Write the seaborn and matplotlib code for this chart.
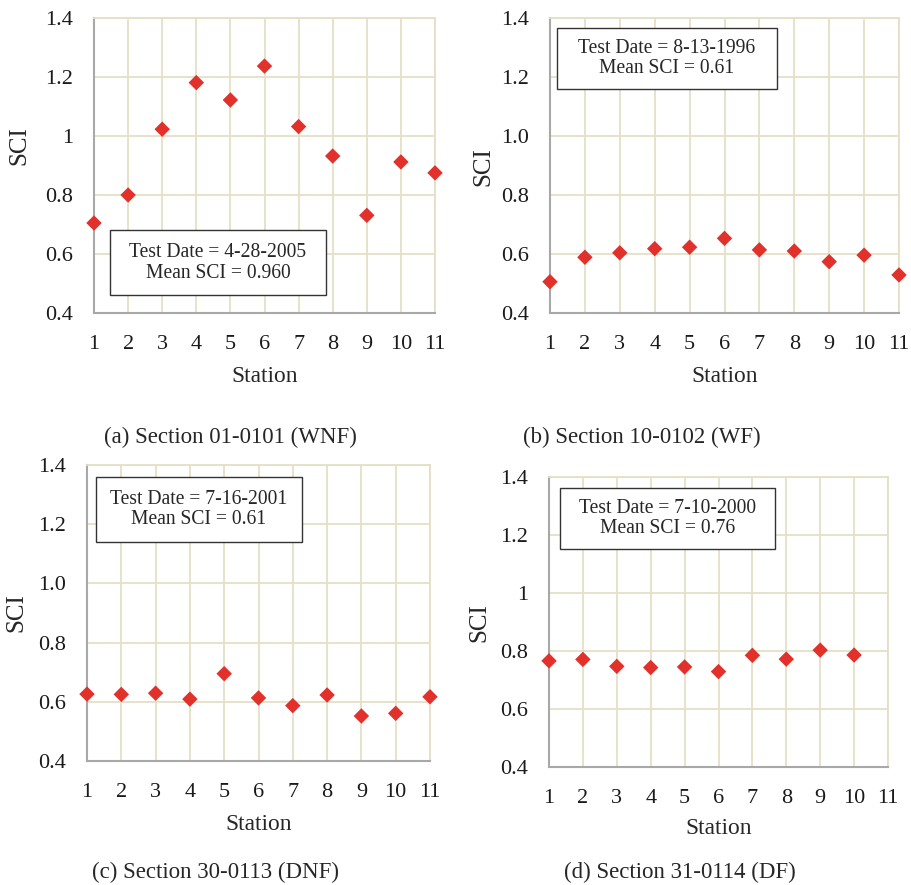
import pandas as pd
import matplotlib
matplotlib.use("Agg")
import matplotlib.pyplot as plt
import seaborn as sns

# station numbers and SCI readings per section
stations = list(range(1, 12))
sci_a = [0.705, 0.800, 1.023, 1.181, 1.122, 1.237, 1.032, 0.932, 0.731, 0.912, 0.875]
sci_b = [0.506, 0.589, 0.604, 0.618, 0.623, 0.653, 0.614, 0.610, 0.574, 0.596, 0.529]
sci_c = [0.626, 0.625, 0.629, 0.609, 0.695, 0.613, 0.587, 0.623, 0.552, 0.561, 0.617]
sci_d = [0.766, 0.771, 0.747, 0.743, 0.745, 0.729, 0.785, 0.772, 0.803, 0.786]

captions = ["(a) Section 01-0101 (WNF)", "(b) Section 10-0102 (WF)",
            "(c) Section 30-0113 (DNF)", "(d) Section 31-0114 (DF)"]
box_texts = ["Test Date = 4-28-2005\nMean SCI = 0.960",
             "Test Date = 8-13-1996\nMean SCI = 0.61",
             "Test Date = 7-16-2001\nMean SCI = 0.61",
             "Test Date = 7-10-2000\nMean SCI = 0.76"]
yticks = [0.4, 0.6, 0.8, 1.0, 1.2, 1.4]
ylabels_plain = ["0.4", "0.6", "0.8", "1", "1.2", "1.4"]
ylabels_dec = ["0.4", "0.6", "0.8", "1.0", "1.2", "1.4"]

sns.set_style("white")
plt.rcParams['font.family'] = ['Liberation Serif', 'DejaVu Serif']

W, H = 911, 885
fig = plt.figure(figsize=(W / 100, H / 100), dpi=100)

# pixel boxes (left, top, right, bottom) for each panel
panels = [
    dict(box=(94, 18, 435, 313), y=sci_a, yl=ylabels_plain,
         text=(0.047, 0.06, 0.68, 0.28), sci=(-0.22, 0.566), cap=(230, 437)),
    dict(box=(550, 18, 899, 313), y=sci_b, yl=ylabels_dec,
         text=(0.019, 0.76, 0.65, 0.965), sci=(-0.192, 0.498), cap=(642, 437)),
    dict(box=(87, 465, 430, 761), y=sci_c, yl=ylabels_dec,
         text=(0.025, 0.739, 0.628, 0.96), sci=(-0.206, 0.5), cap=(216, 872)),
    dict(box=(549, 477, 888, 767), y=sci_d, yl=ylabels_plain,
         text=(0.032, 0.752, 0.667, 0.962), sci=(-0.204, 0.498), cap=(680, 872)),
]

grid_col = "#E4DFC6"
spine_col = "#A8A8A8"
red = "#E2312A"

for i, p in enumerate(panels):
    l, t, r, b = p["box"]
    ax = fig.add_axes([l / W, 1 - b / H, (r - l) / W, (b - t) / H])
    df = pd.DataFrame({"Station": stations[:len(p["y"])], "SCI": p["y"]})
    sns.scatterplot(data=df, x="Station", y="SCI", ax=ax, marker="D",
                    s=62, color=red, edgecolor="none", zorder=5, clip_on=False)
    ax.set_xlim(1, 11)
    ax.set_ylim(0.4, 1.4)
    ax.set_xticks(stations)
    ax.set_yticks(yticks)
    ax.set_yticklabels(p["yl"])
    ax.grid(True, color=grid_col, linewidth=1.3)
    ax.set_axisbelow(True)
    for s in ["top", "right"]:
        ax.spines[s].set_color(grid_col)
        ax.spines[s].set_linewidth(1.3)
    for s in ["left", "bottom"]:
        ax.spines[s].set_color(spine_col)
        ax.spines[s].set_linewidth(1.5)
    ax.tick_params(axis="both", length=0, labelsize=16, colors="#1a1a1a")
    ax.tick_params(axis="x", pad=16)
    ax.tick_params(axis="y", pad=15)

    ax.set_xlabel("Station", fontsize=16.8)
    ax.xaxis.set_label_coords(0.5, -0.2136)
    ax.xaxis.label.set_verticalalignment("center")
    ax.set_ylabel("SCI", fontsize=18)
    ax.yaxis.set_label_coords(*p["sci"])
    ax.yaxis.label.set_verticalalignment("center")

    x0, y0, x1, y1 = p["text"]
    rect = plt.Rectangle((x0, y0), x1 - x0, y1 - y0, transform=ax.transAxes,
                         facecolor="white", edgecolor="#333333", linewidth=1.0,
                         zorder=6)
    ax.add_patch(rect)
    ax.text((x0 + x1) / 2, (y0 + y1) / 2, box_texts[i],
            transform=ax.transAxes, ha="center", va="center", fontsize=14.1,
            linespacing=1.1, zorder=7)

    cx, cy = p["cap"]
    fig.text(cx / W, 1 - cy / H, captions[i], ha="center", va="center",
             fontsize=16.5)

fig.savefig("out.png", dpi=100)
